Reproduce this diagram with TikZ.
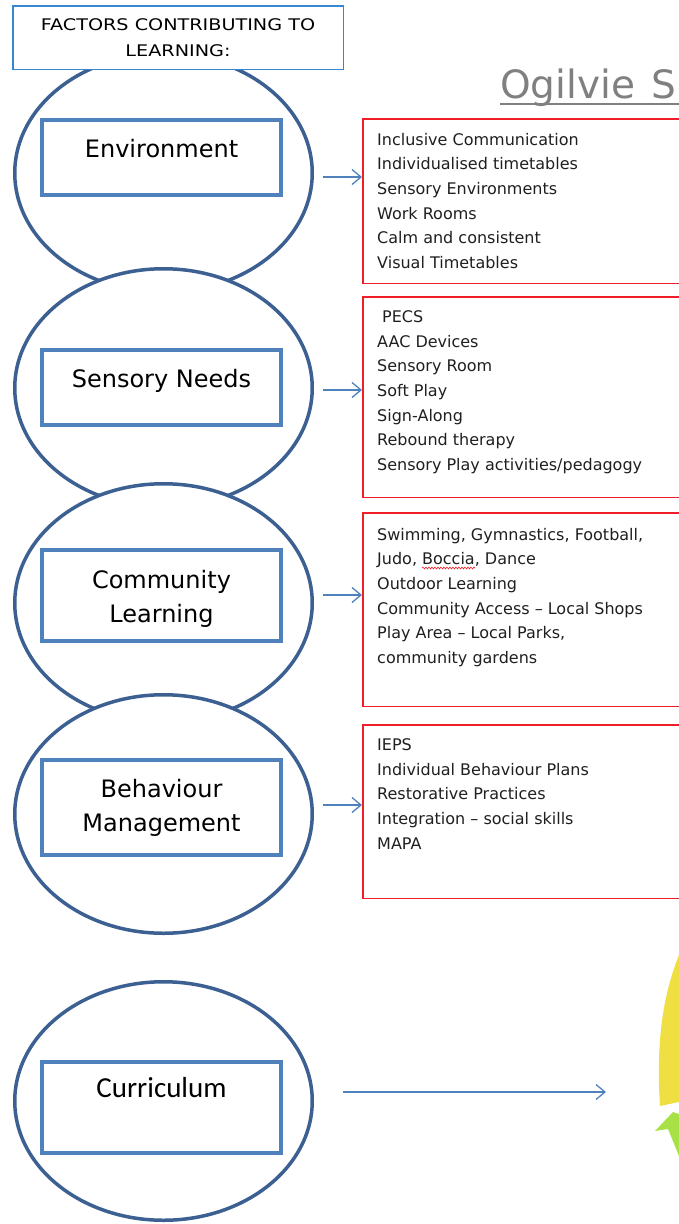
\documentclass[tikz,border=0pt]{standalone}
\usepackage{fontspec}
\setmainfont{DejaVu Sans}
\newfontfamily\headfont[FakeStretch=1.2]{DejaVu Sans}
\newfontfamily\curfont{Carlito}
\usetikzlibrary{arrows.meta,positioning,shapes.geometric,decorations.pathmorphing}
\definecolor{col1}{RGB}{59,96,145}
\definecolor{col2}{RGB}{79,129,189}
\definecolor{col3}{RGB}{52,136,210}
\definecolor{col4}{RGB}{240,30,40}
\definecolor{col5}{RGB}{128,128,128}
\definecolor{col6}{RGB}{240,223,66}
\definecolor{col7}{RGB}{168,225,70}
\tikzstyle{ring}=[draw=col1, fill=white, line width=3.5pt, ellipse, minimum width=297.5pt, minimum height=238.5pt, inner sep=0pt]
\tikzstyle{tag}=[draw=col2, line width=4pt, minimum width=239pt, inner sep=0pt]
\tikzstyle{tagtext}=[inner sep=0pt, align=center, font=\fontsize{24}{34}\selectfont]
\tikzstyle{headbox}=[draw=col3, fill=white, line width=1.5pt, minimum width=330.5pt, minimum height=63.5pt, align=center, font=\headfont\fontsize{16}{26}\selectfont]
\tikzstyle{listbox}=[draw=col4, line width=1.5pt, minimum width=340pt, anchor=north west, inner sep=0pt]
\tikzstyle{listtext}=[anchor=north west, inner sep=0pt, align=left, text=black!88, font=\fontsize{16}{24.7}\selectfont]
\tikzstyle{link}=[col2, line width=1.3pt, -{Straight Barb[length=9pt,width=15pt]}]

\begin{document}
\begin{tikzpicture}[x=1pt,y=-1pt]
    \useasboundingbox (0,0) rectangle (679,1224);
    \clip (0,0) rectangle (679,1224);
    % factor rings, each one laid over the one above
    \node [ring] (env) at (163.5,173) {};
    \node [ring] (sens) at (163.5,388) {};
    \node [ring] (comm) at (163.5,603) {};
    \node [ring] (behav) at (163.5,814) {};
    \node [ring] (curr) at (163.5,1101) {};
    \node [headbox] (title) at (178,37.5) {FACTORS CONTRIBUTING TO\\LEARNING:};
    % boxes inside the rings
    \node [tag, minimum height=75pt] (envbox) at (161.5,157.5) {};
    \node [tag, minimum height=75pt] (sensbox) at (161.5,387.5) {};
    \node [tag, minimum height=91pt] (commbox) at (161.5,595.5) {};
    \node [tag, minimum height=95pt] (behavbox) at (161.5,807.5) {};
    \node [tag, minimum height=91pt] (currbox) at (161.5,1107.5) {};
    \node [tagtext, anchor=north, below=21pt of envbox.north] (envname) {Environment};
    \node [tagtext, anchor=north, below=21pt of sensbox.north] (sensname) {Sensory Needs};
    \node [tagtext, anchor=north, below=22pt of commbox.north] (commname) {Community\\Learning};
    \node [tagtext, anchor=north, below=21pt of behavbox.north] (behavname) {Behaviour\\Management};
    \node [tagtext, anchor=north, below=17pt of currbox.north, font=\curfont\fontsize{29}{34}\selectfont] (currname) {Curriculum};
    % school heading
    \node [anchor=base west, inner sep=0pt, text=col5, font=\fontsize{39}{40}\selectfont] (school) at (500,98) {Ogilvie\hspace{16pt}S};
    \draw [col5, line width=2pt] ([yshift=-6pt]school.base west) -- ++(200pt,0pt);
    % strategy lists
    \node [listbox, minimum height=164.5pt] (envrect) at (362,118) {};
    \node [listbox, minimum height=200.5pt] (sensrect) at (362,296) {};
    \node [listbox, minimum height=193.5pt] (commrect) at (362,512) {};
    \node [listbox, minimum height=173.5pt] (behavrect) at (362,724) {};
    \node [listtext] (envlist) at (377,132.8) {Inclusive Communication\\Individualised timetables\\Sensory Environments\\Work Rooms\\Calm and consistent\\Visual Timetables};
    \node [listtext] (senslist) at (377,310.3) {\hspace{5pt}PECS\\AAC Devices\\Sensory Room\\Soft Play\\Sign-Along\\Rebound therapy\\Sensory Play activities/pedagogy};
    \node [listtext] (commlist) at (377,527.8) {Swimming, Gymnastics, Football,\\Judo, Boccia, Dance\\Outdoor Learning\\Community Access -- Local Shops\\Play Area -- Local Parks,\\community gardens};
    \node [listtext] (behavlist) at (377,738.3) {IEPS\\Individual Behaviour Plans\\Restorative Practices\\Integration -- social skills\\MAPA};
    \draw [col4, line width=0.6pt, decorate, decoration={snake, amplitude=0.9pt, segment length=3pt}] (422,568) -- (475,568);
    % arrows
    \coordinate (envout) at (323,177);
    \coordinate (sensout) at (323,390);
    \coordinate (commout) at (323,595);
    \coordinate (behavout) at (323,805);
    \coordinate (currout) at (343,1092);
    \coordinate (currin) at (606,1092);
    \path [link]
        (envout) edge (envout -| envrect.west)
        (sensout) edge (sensout -| sensrect.west)
        (commout) edge (commout -| commrect.west)
        (behavout) edge (behavout -| behavrect.west)
        (currout) edge (currin);
    % edge of the cycle graphic
    \fill [col6] (679,955) .. controls (667,985) and (655,1030) .. (660,1106) -- (679,1102) -- cycle;
    \fill [col7] (655,1131) -- (673,1112) -- (679,1114) -- (679,1156) -- (668,1129) -- cycle;
\end{tikzpicture}
\end{document}
